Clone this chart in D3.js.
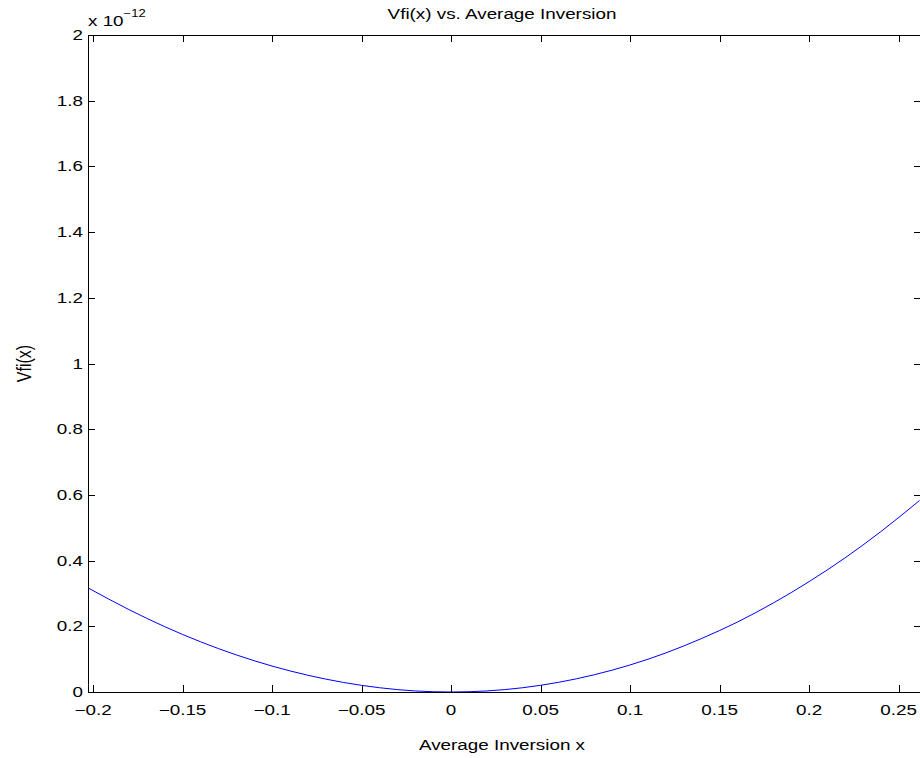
<!DOCTYPE html>
<html><head><meta charset="utf-8">
<script src="https://cdn.jsdelivr.net/npm/d3@7"></script>
<style>body{margin:0;background:#fff}svg{display:block}text{font-family:"Liberation Sans",Arial,Helvetica,sans-serif;fill:#000}</style>
</head><body><svg id="c" width="920" height="758"></svg>
<script>
const xValues = [-0.2028,-0.18,-0.16,-0.14,-0.12,-0.10,-0.08,-0.06,-0.04,-0.02,0,0.02,0.04,0.06,0.08,0.10,0.12,0.14,0.16,0.18,0.20,0.22,0.24,0.2617];
const vfiValues = [0.317,0.251,0.199,0.153,0.113,0.079,0.051,0.029,0.013,0.0032,0,0.0032,0.013,0.0294,0.0525,0.0823,0.119,0.163,0.213,0.271,0.336,0.408,0.488,0.583];
const xTicks = [-0.2,-0.15,-0.1,-0.05,0,0.05,0.1,0.15,0.2,0.25];
const yTicks = [0,0.2,0.4,0.6,0.8,1,1.2,1.4,1.6,1.8,2];
const titleText = "Vfi(x) vs. Average Inversion";
const xLabel = "Average Inversion x";
const yLabel = "Vfi(x)";

const L=88, R=921, T=35, B=692, tl=7, FS=14.5, SX=1.3;
const svg=d3.select("#c");
const x=d3.scaleLinear().domain([-0.2028,0.2625]).range([L,R]);
const y=d3.scaleLinear().domain([0,2]).range([B,T]);
const fmt=v=>(v<0?"\u2212":"")+String(Math.abs(v));
function txt(px,py,s,anchor,extra){
  return svg.append("text").attr("transform","translate("+px+","+py+") scale("+SX+",1)"+(extra||""))
    .attr("text-anchor",anchor).attr("font-size",FS).text(s);
}

const line=d3.line().x((d,i)=>x(xValues[i])).y(d=>y(d)).curve(d3.curveMonotoneX);
svg.append("path").attr("d",line(vfiValues)).attr("fill","none").attr("stroke","#0000ff").attr("stroke-width",1);

const g=svg.append("g").attr("stroke","#000").attr("stroke-width",1);
xTicks.forEach(t=>{
  const px=Math.round(x(t))+0.5;
  g.append("line").attr("x1",px).attr("x2",px).attr("y1",B).attr("y2",B-tl);
  g.append("line").attr("x1",px).attr("x2",px).attr("y1",T).attr("y2",T+tl);
});
yTicks.forEach(t=>{
  const py=Math.round(y(t))+0.5;
  g.append("line").attr("x1",L).attr("x2",L+tl).attr("y1",py).attr("y2",py);
  g.append("line").attr("x1",R).attr("x2",R-tl).attr("y1",py).attr("y2",py);
});
g.append("rect").attr("x",L+0.5).attr("y",T+0.5).attr("width",R-L).attr("height",B-T).attr("fill","none");

xTicks.forEach(t=>txt(x(t),B+23,fmt(t),"middle"));
yTicks.forEach(t=>txt(L-5,y(t)+5,fmt(t),"end"));

const ex=svg.append("text").attr("transform","translate("+L+",26) scale("+SX+",1)").attr("font-size",FS);
ex.append("tspan").text("x 10");
ex.append("tspan").attr("dy",-9).attr("font-size",10).text("\u221212");

txt(502,19,titleText,"middle");
txt(502,750,xLabel,"middle");
svg.append("text").attr("transform","translate(31,"+((T+B)/2)+") scale("+SX+",1) rotate(-90)")
  .attr("text-anchor","middle").attr("font-size",16).text(yLabel);
</script></body></html>
